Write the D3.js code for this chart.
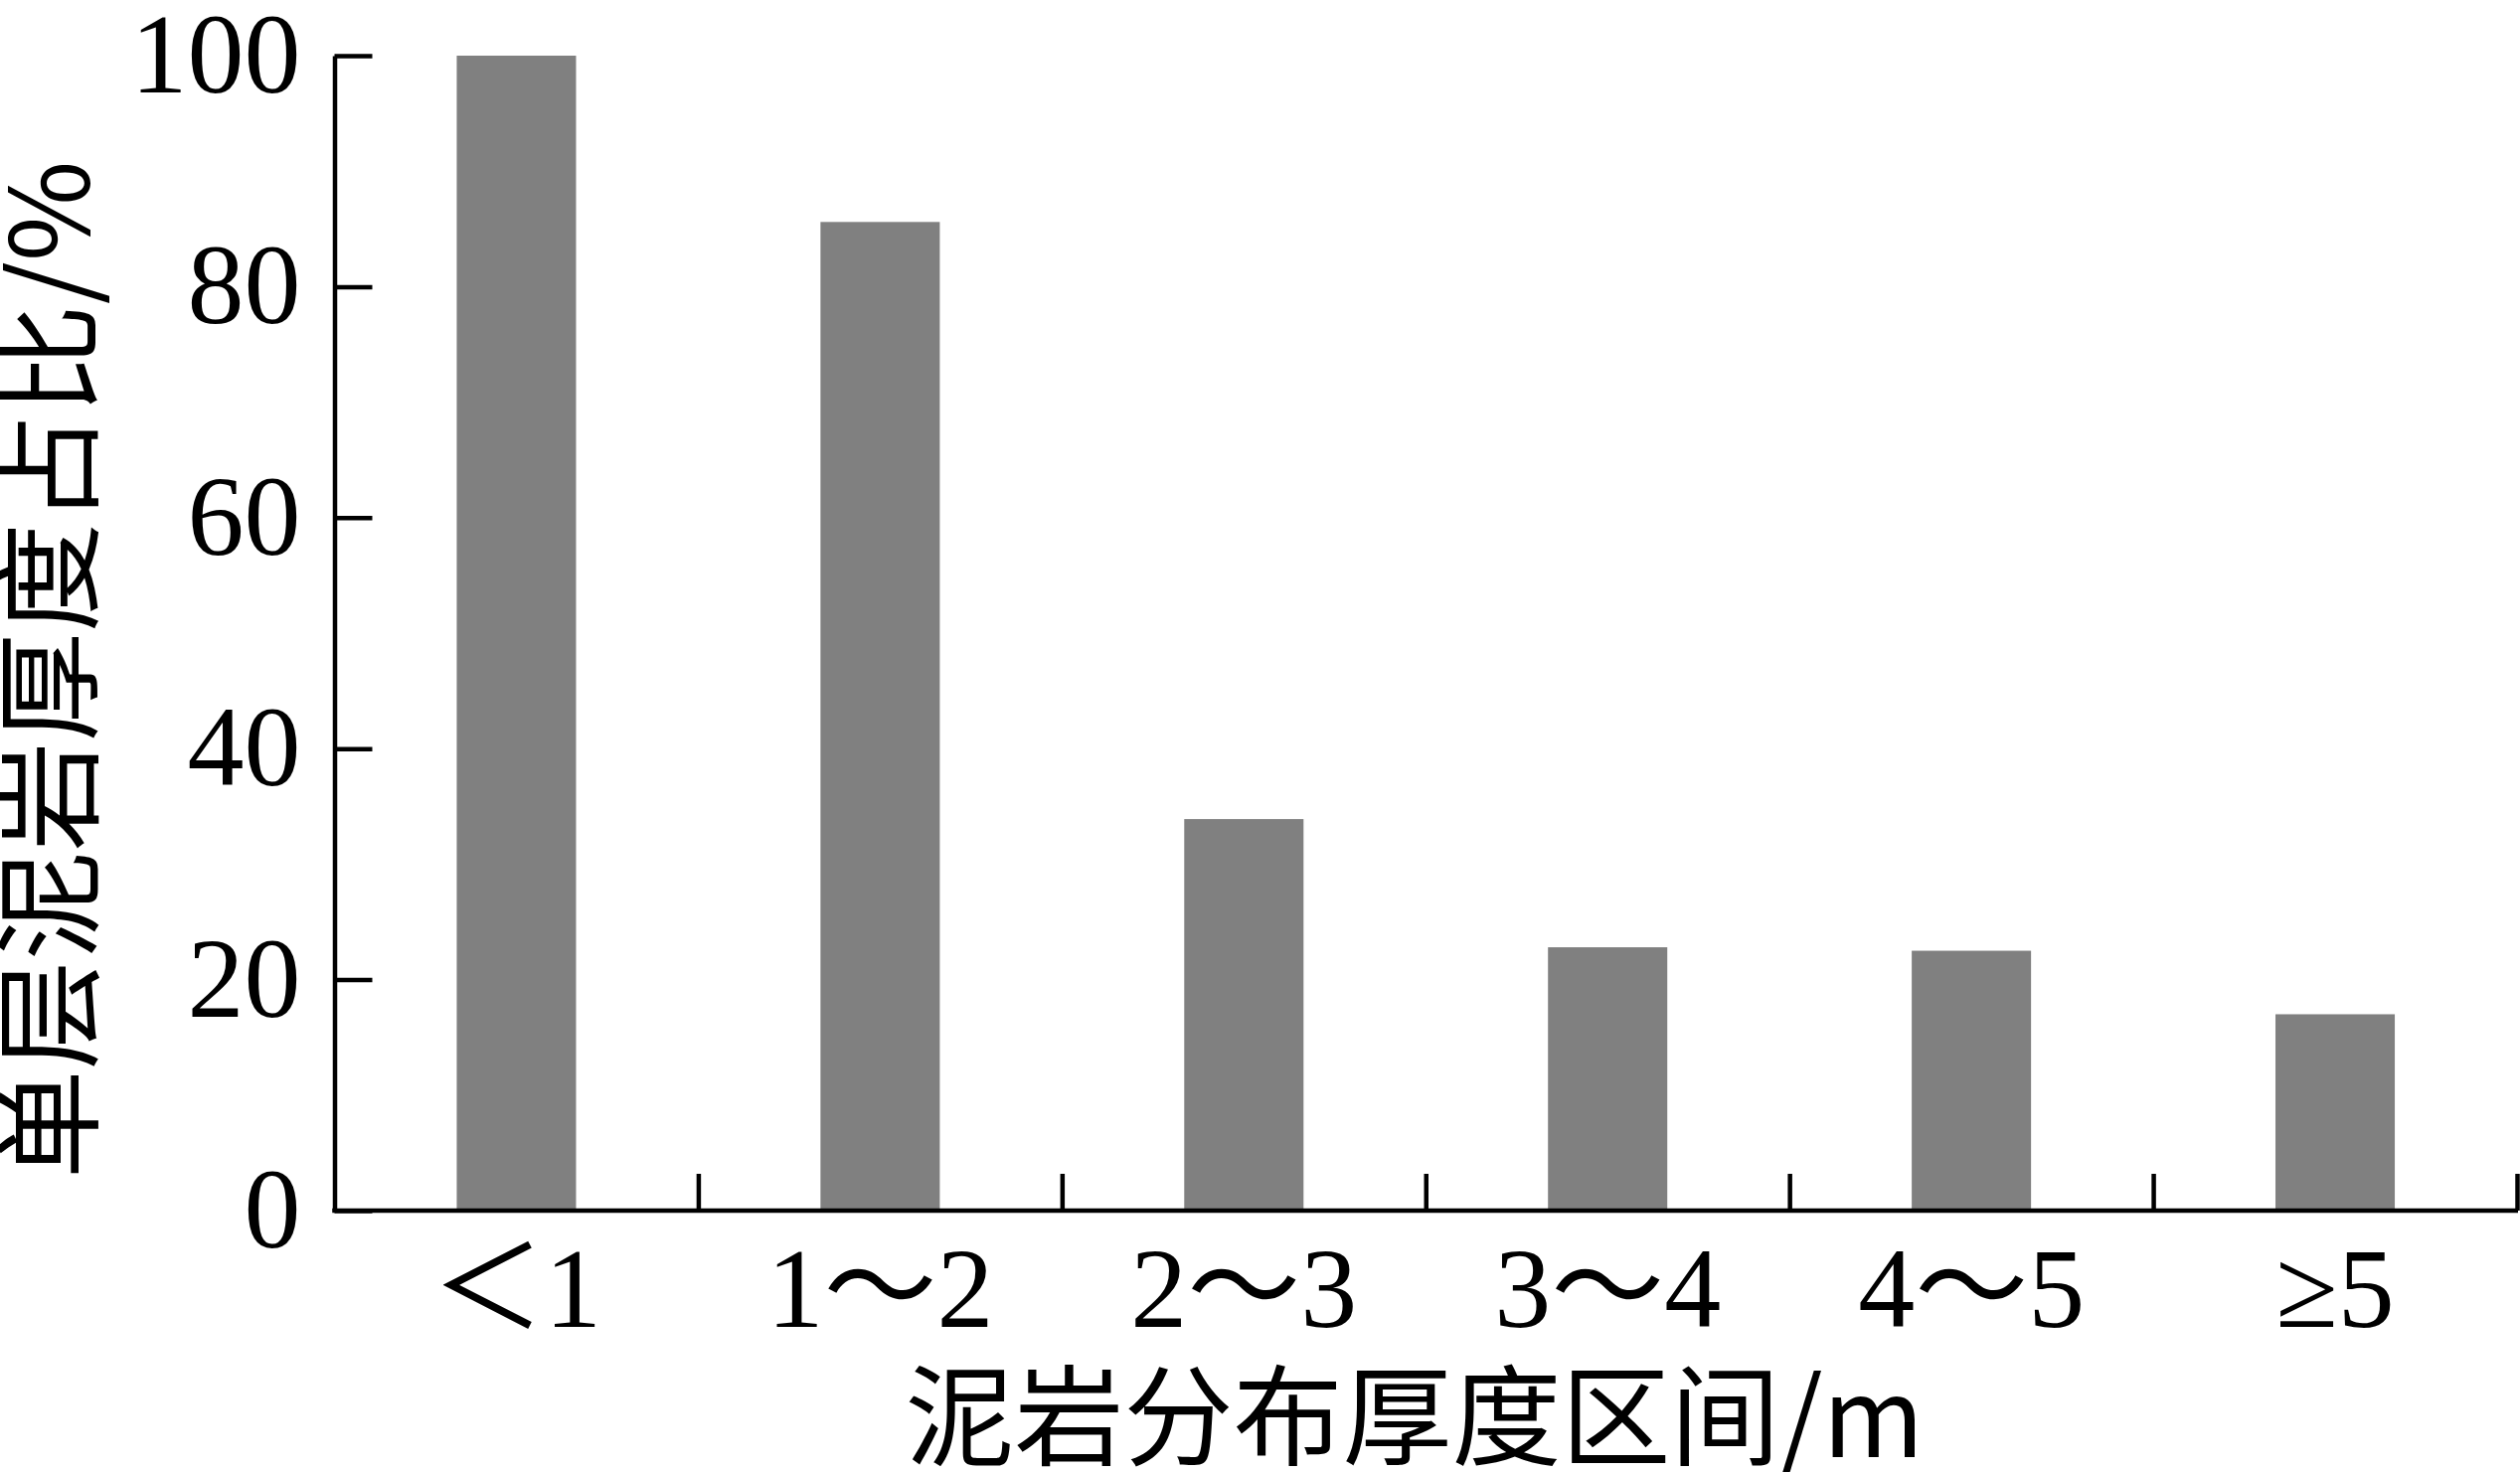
<!DOCTYPE html>
<html>
<head>
<meta charset="utf-8">
<script src="https://cdn.jsdelivr.net/npm/d3@7"></script>
<style>
  html, body { margin: 0; padding: 0; background: #fff; }
  svg { display: block; }
</style>
</head>
<body>
<svg id="chart" width="2535" height="1481"></svg>
<script>
const categories = ["＜1", "1～2", "2～3", "3～4", "4～5", "≥5"];
const values = [100, 85.6, 33.9, 22.8, 22.5, 17.0];
const yTicks = [0, 20, 40, 60, 80, 100];
const yTitle = "单层泥岩厚度占比/%";
const xTitle = "泥岩分布厚度区间/m";

(function () {
const svg = d3.select("#chart");
const mLeft = 336.5, mRight = 2532, mTop = 56, mBottom = 1218;
const serif = "'Liberation Serif', 'Times New Roman', 'Noto Sans CJK SC', serif";
const cjk = "'Noto Sans CJK SC', 'Liberation Serif', serif";

const x = d3.scaleBand().domain(categories).range([mLeft, mRight])
  .paddingInner(0.672).paddingOuter(0.336);
const y = d3.scaleLinear().domain([0, 100]).range([mBottom, mTop]);
const xb = d3.scaleLinear().domain([0, categories.length]).range([mLeft, mRight]);

// bars
svg.append("g").selectAll("rect").data(values).join("rect")
  .attr("x", (d, i) => x(categories[i]))
  .attr("width", x.bandwidth())
  .attr("y", d => y(d))
  .attr("height", d => y(0) - y(d))
  .attr("fill", "#808080");

// y axis
const gy = svg.append("g").attr("transform", `translate(${mLeft},0)`)
  .call(d3.axisLeft(y).tickValues(yTicks).tickSizeInner(-38).tickSizeOuter(0).tickPadding(34));
gy.select(".domain").attr("stroke", "#000").attr("stroke-width", 4.5);
gy.selectAll(".tick line").attr("stroke", "#000").attr("stroke-width", 4.5);
gy.selectAll(".tick text").attr("font-family", serif).attr("font-size", 114).attr("fill", "#000");

// x axis boundary ticks
const gxb = svg.append("g").attr("transform", `translate(0,${mBottom})`)
  .call(d3.axisBottom(xb).tickValues(d3.range(1, categories.length + 1)).tickSizeInner(-37).tickSizeOuter(0).tickFormat(""));
gxb.select(".domain").attr("stroke", "#000").attr("stroke-width", 4.5)
  .attr("d", `M${mLeft - 2.25},0H${mRight + 1}`);
gxb.selectAll(".tick line").attr("stroke", "#000").attr("stroke-width", 4.5);

// x axis labels
const gx = svg.append("g").attr("transform", `translate(0,${mBottom})`)
  .call(d3.axisBottom(x).tickSize(0));
gx.select(".domain").remove();
gx.selectAll(".tick text").attr("font-family", serif).attr("font-size", 114)
  .attr("fill", "#000").attr("y", 117).attr("dy", 0);

// axis titles
svg.append("text")
  .attr("transform", `translate(${90},${674}) rotate(-90)`)
  .attr("text-anchor", "middle")
  .attr("font-family", cjk).attr("font-size", 110).attr("fill", "#000")
  .text(yTitle);

svg.append("text")
  .attr("x", 1423).attr("y", 1466)
  .attr("text-anchor", "middle")
  .attr("font-family", cjk).attr("font-size", 110).attr("fill", "#000")
  .text(xTitle);
})();
</script>
</body>
</html>
